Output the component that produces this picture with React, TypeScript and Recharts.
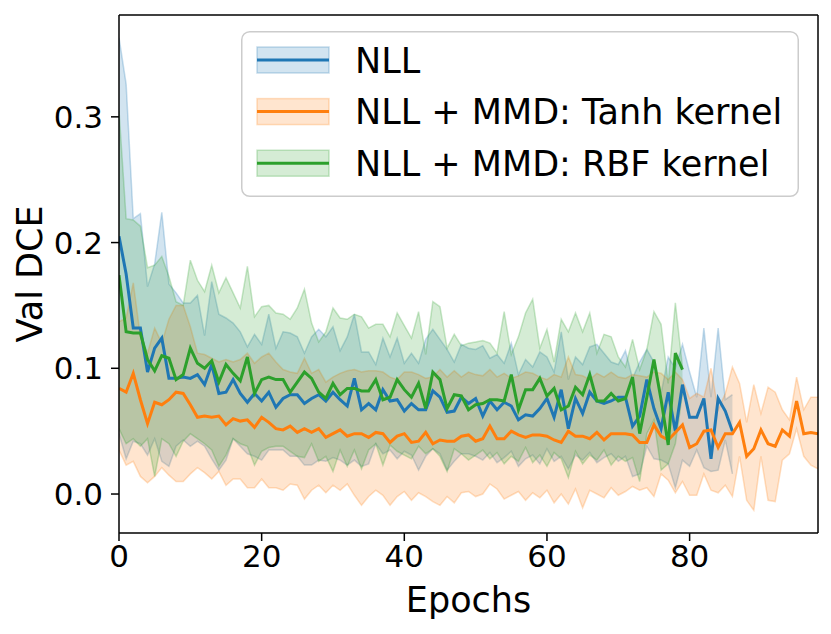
import { Area, ComposedChart, Label, Legend, Line, ReferenceLine, XAxis, YAxis } from "recharts";

// values, one entry per epoch starting at 0
const nllMean = [
  0.205, 0.175, 0.132, 0.132, 0.097, 0.116, 0.124, 0.092, 0.092, 0.093, 0.092, 0.095, 0.087, 0.103, 0.080, 0.081, 0.091, 0.080, 0.073, 0.080, 0.074, 0.081, 0.069, 0.076, 0.079,
  0.079, 0.072, 0.076, 0.079, 0.074, 0.081, 0.075, 0.070, 0.092, 0.067, 0.072, 0.067, 0.083, 0.074, 0.075, 0.066, 0.072, 0.067, 0.067, 0.082, 0.077, 0.065, 0.066, 0.077, 0.072,
  0.076, 0.062, 0.074, 0.067, 0.073, 0.070, 0.059, 0.063, 0.062, 0.068, 0.076, 0.061, 0.083, 0.052, 0.076, 0.064, 0.081, 0.074, 0.072, 0.074, 0.077, 0.077, 0.054, 0.062, 0.091,
  0.068, 0.052, 0.081, 0.050, 0.087, 0.061, 0.061, 0.076, 0.028, 0.076, 0.066, 0.050,
];
const nllHigh = [
  0.363, 0.326, 0.219, 0.223, 0.165, 0.183, 0.224, 0.167, 0.160, 0.152, 0.152, 0.158, 0.126, 0.169, 0.143, 0.140, 0.136, 0.129, 0.117, 0.127, 0.119, 0.143, 0.116, 0.129, 0.128,
  0.125, 0.112, 0.125, 0.131, 0.125, 0.133, 0.114, 0.125, 0.143, 0.113, 0.113, 0.103, 0.124, 0.109, 0.124, 0.104, 0.112, 0.104, 0.123, 0.131, 0.123, 0.115, 0.105, 0.119, 0.116,
  0.115, 0.118, 0.108, 0.111, 0.104, 0.120, 0.095, 0.107, 0.101, 0.113, 0.109, 0.097, 0.129, 0.091, 0.109, 0.103, 0.117, 0.119, 0.112, 0.105, 0.103, 0.114, 0.092, 0.105, 0.115,
  0.105, 0.080, 0.109, 0.100, 0.119, 0.097, 0.077, 0.132, 0.077, 0.132, 0.075, 0.079,
];
const nllLow = [
  0.048, 0.028, 0.042, 0.040, 0.031, 0.044, 0.026, 0.022, 0.038, 0.043, 0.038, 0.042, 0.038, 0.028, 0.019, 0.027, 0.044, 0.038, 0.032, 0.030, 0.027, 0.035, 0.035, 0.035, 0.030,
  0.030, 0.023, 0.023, 0.027, 0.026, 0.029, 0.027, 0.023, 0.027, 0.022, 0.024, 0.040, 0.032, 0.035, 0.028, 0.034, 0.031, 0.019, 0.030, 0.036, 0.032, 0.019, 0.026, 0.032, 0.032,
  0.030, 0.027, 0.033, 0.025, 0.029, 0.034, 0.022, 0.028, 0.031, 0.024, 0.036, 0.026, 0.030, 0.020, 0.031, 0.027, 0.033, 0.025, 0.029, 0.032, 0.026, 0.030, 0.014, 0.016, 0.038,
  0.028, 0.027, 0.024, 0.005, 0.027, 0.022, 0.035, 0.021, 0.018, 0.019, 0.043, 0.016,
];

const tanhMean = [
  0.084, 0.081, 0.096, 0.075, 0.056, 0.073, 0.071, 0.075, 0.081, 0.080, 0.071, 0.061, 0.062, 0.061, 0.062, 0.055, 0.060, 0.058, 0.059, 0.053, 0.061, 0.057, 0.052, 0.051, 0.054,
  0.049, 0.052, 0.049, 0.052, 0.045, 0.048, 0.051, 0.046, 0.048, 0.048, 0.045, 0.049, 0.048, 0.041, 0.046, 0.048, 0.041, 0.042, 0.049, 0.040, 0.043, 0.042, 0.042, 0.046, 0.047,
  0.042, 0.044, 0.054, 0.044, 0.044, 0.050, 0.047, 0.045, 0.047, 0.047, 0.046, 0.043, 0.041, 0.050, 0.046, 0.046, 0.044, 0.049, 0.043, 0.048, 0.048, 0.048, 0.047, 0.041, 0.041,
  0.055, 0.046, 0.043, 0.049, 0.055, 0.037, 0.040, 0.050, 0.051, 0.037, 0.048, 0.048, 0.057, 0.030, 0.036, 0.051, 0.040, 0.038, 0.051, 0.046, 0.074, 0.048, 0.049, 0.048,
];
const tanhHigh = [
  0.137, 0.140, 0.168, 0.125, 0.112, 0.132, 0.120, 0.139, 0.150, 0.150, 0.133, 0.112, 0.111, 0.108, 0.105, 0.107, 0.105, 0.107, 0.112, 0.104, 0.109, 0.112, 0.105, 0.099, 0.097,
  0.096, 0.108, 0.096, 0.099, 0.089, 0.093, 0.096, 0.098, 0.099, 0.097, 0.098, 0.098, 0.097, 0.093, 0.091, 0.097, 0.097, 0.095, 0.092, 0.093, 0.099, 0.093, 0.098, 0.093, 0.097,
  0.095, 0.094, 0.099, 0.093, 0.096, 0.092, 0.094, 0.097, 0.096, 0.093, 0.091, 0.095, 0.093, 0.109, 0.095, 0.094, 0.091, 0.096, 0.093, 0.097, 0.093, 0.092, 0.095, 0.094, 0.093,
  0.097, 0.096, 0.091, 0.097, 0.091, 0.076, 0.080, 0.077, 0.100, 0.067, 0.080, 0.101, 0.088, 0.057, 0.087, 0.064, 0.085, 0.081, 0.067, 0.059, 0.093, 0.067, 0.077, 0.077,
];
const tanhLow = [
  0.035, 0.023, 0.026, 0.014, 0.009, 0.014, 0.021, 0.015, 0.010, 0.010, 0.016, 0.021, 0.017, 0.012, 0.018, 0.007, 0.012, 0.012, 0.005, 0.005, 0.012, 0.005, 0.005, 0.003, 0.008,
  0.007, -0.004, 0.003, 0.007, 0.001, 0.007, 0.003, 0.008, -0.001, -0.009, -0.002, 0.003, -0.001, -0.009, -0.002, 0.002, -0.005, 0.001, -0.002, -0.006, -0.009, -0.002, -0.007, 0.001, 0.002,
  -0.002, 0.000, 0.008, 0.004, -0.004, -0.001, 0.002, -0.005, 0.001, -0.003, 0.003, -0.007, 0.000, -0.008, 0.004, -0.011, 0.003, 0.000, -0.003, 0.005, -0.001, 0.002, 0.006, 0.003, 0.005,
  -0.002, 0.016, 0.011, 0.001, 0.010, -0.001, -0.001, 0.016, 0.003, 0.001, 0.007, -0.002, 0.030, -0.005, -0.013, 0.030, -0.005, -0.006, 0.027, 0.032, 0.052, 0.030, 0.023, 0.020,
];

const rbfMean = [
  0.174, 0.129, 0.128, 0.128, 0.107, 0.098, 0.110, 0.108, 0.091, 0.095, 0.116, 0.104, 0.100, 0.106, 0.089, 0.103, 0.096, 0.090, 0.109, 0.080, 0.091, 0.093, 0.091, 0.091, 0.081,
  0.089, 0.097, 0.092, 0.081, 0.076, 0.088, 0.079, 0.084, 0.084, 0.082, 0.082, 0.091, 0.075, 0.077, 0.091, 0.083, 0.077, 0.088, 0.068, 0.097, 0.091, 0.068, 0.079, 0.078, 0.067,
  0.071, 0.072, 0.075, 0.075, 0.074, 0.095, 0.067, 0.083, 0.083, 0.092, 0.078, 0.084, 0.067, 0.070, 0.085, 0.079, 0.095, 0.074, 0.074, 0.080, 0.074, 0.076, 0.093, 0.048, 0.077,
  0.107, 0.075, 0.039, 0.112, 0.099,
];
const rbfHigh = [
  0.305, 0.219, 0.218, 0.213, 0.180, 0.182, 0.189, 0.173, 0.153, 0.150, 0.186, 0.170, 0.161, 0.182, 0.160, 0.172, 0.160, 0.148, 0.181, 0.141, 0.149, 0.150, 0.144, 0.143, 0.139,
  0.148, 0.163, 0.136, 0.121, 0.129, 0.148, 0.140, 0.139, 0.143, 0.141, 0.132, 0.135, 0.135, 0.125, 0.144, 0.134, 0.124, 0.145, 0.111, 0.153, 0.149, 0.116, 0.127, 0.118, 0.120,
  0.121, 0.122, 0.120, 0.112, 0.145, 0.111, 0.125, 0.144, 0.155, 0.116, 0.131, 0.105, 0.139, 0.129, 0.144, 0.129, 0.144, 0.112, 0.127, 0.125, 0.109, 0.101, 0.123, 0.099, 0.115,
  0.145, 0.135, 0.088, 0.152, 0.101,
];
const rbfLow = [
  0.052, 0.040, 0.044, 0.038, 0.044, 0.014, 0.044, 0.040, 0.030, 0.042, 0.048, 0.044, 0.040, 0.035, 0.022, 0.031, 0.044, 0.040, 0.038, 0.023, 0.034, 0.037, 0.038, 0.038, 0.034,
  0.030, 0.029, 0.040, 0.026, 0.030, 0.018, 0.035, 0.022, 0.035, 0.020, 0.035, 0.040, 0.023, 0.039, 0.034, 0.031, 0.028, 0.038, 0.032, 0.036, 0.030, 0.018, 0.036, 0.032, 0.027,
  0.031, 0.035, 0.028, 0.033, 0.024, 0.030, 0.026, 0.037, 0.025, 0.031, 0.022, 0.033, 0.028, 0.013, 0.034, 0.024, 0.031, 0.027, 0.035, 0.023, 0.030, 0.026, 0.029, 0.010, 0.048,
  0.059, 0.019, 0.024, 0.040, 0.080,
];

const xTicks = [0, 20, 40, 60, 80];
const yTicks = [0, 0.1, 0.2, 0.3];
const xDomain: [number, number] = [0, 98];
const yDomain: [number, number] = [-0.031, 0.381];

const FONT = "DejaVu Sans";

type Row = { epoch: number; mean: number; band: [number, number] };

function buildRows(mean: number[], low: number[], high: number[]): Row[] {
  return mean.map((m, i) => ({ epoch: i, mean: m, band: [low[i], high[i]] }));
}

const series = [
  { key: "nll", name: "NLL", color: "#1f77b4", rows: buildRows(nllMean, nllLow, nllHigh) },
  { key: "tanh", name: "NLL + MMD: Tanh kernel", color: "#ff7f0e", rows: buildRows(tanhMean, tanhLow, tanhHigh) },
  { key: "rbf", name: "NLL + MMD: RBF kernel", color: "#2ca02c", rows: buildRows(rbfMean, rbfLow, rbfHigh) },
];

function LegendBox() {
  return (
    <svg width={558} height={166} style={{ display: "block", overflow: "visible" }}>
      <rect x={0.75} y={0.75} width={556.5} height={164.5} rx={8} fill="#ffffff" fillOpacity={0.8} stroke="#cccccc" strokeWidth={1.5} />
      {series.map((s, i) => {
        const cy = 29 + i * 51.6;
        return (
          <g key={s.key}>
            <rect x={16} y={cy - 13} width={72} height={26} fill={s.color} fillOpacity={0.2} stroke={s.color} strokeOpacity={0.25} strokeWidth={1.5} />
            <line x1={16} x2={88} y1={cy} y2={cy} stroke={s.color} strokeWidth={3} />
            <text x={114} y={cy + 12.5} fontFamily={FONT} fontSize={35} fill="#000">
              {s.name}
            </text>
          </g>
        );
      })}
    </svg>
  );
}

export default function App() {
  const axisLine = { stroke: "#000", strokeWidth: 1.5 };
  const tickStyle = { fontFamily: FONT, fontSize: 31, fill: "#000" };
  return (
    <div style={{ position: "absolute", left: 0, top: 0, background: "#fff" }}>
      <ComposedChart width={831} height={634} margin={{ top: 15, right: 13, bottom: 0, left: 0 }}>
        <XAxis
          dataKey="epoch"
          type="number"
          domain={xDomain}
          ticks={xTicks}
          allowDataOverflow
          height={101}
          axisLine={axisLine}
          tickLine={axisLine}
          tickSize={8}
          tickMargin={4}
          tick={tickStyle}
        >
          <Label
            content={({ viewBox }: any) => (
              <text x={viewBox.x + viewBox.width / 2} y={viewBox.y + 79} textAnchor="middle" fontFamily={FONT} fontSize={35} fill="#000">
                Epochs
              </text>
            )}
          />
        </XAxis>
        <YAxis
          type="number"
          domain={yDomain}
          ticks={yTicks}
          allowDataOverflow
          width={119}
          axisLine={axisLine}
          tickLine={axisLine}
          tickSize={8}
          tickMargin={8}
          tick={tickStyle}
          tickFormatter={(v: number) => v.toFixed(1)}
        >
          <Label
            content={({ viewBox }: any) => {
              const cx = viewBox.x + 42;
              const cy = viewBox.y + viewBox.height / 2;
              return (
                <text x={cx} y={cy} transform={`rotate(-90 ${cx} ${cy})`} textAnchor="middle" fontFamily={FONT} fontSize={35} fill="#000">
                  Val DCE
                </text>
              );
            }}
          />
        </YAxis>
        {series.map((s) => (
          <Area
            key={`${s.key}-band`}
            data={s.rows}
            dataKey="band"
            type="linear"
            fill={s.color}
            fillOpacity={0.2}
            stroke={s.color}
            strokeOpacity={0.25}
            strokeWidth={1.5}
            dot={false}
            activeDot={false}
            isAnimationActive={false}
          />
        ))}
        {series.map((s) => (
          <Line
            key={`${s.key}-mean`}
            data={s.rows}
            dataKey="mean"
            name={s.name}
            type="linear"
            stroke={s.color}
            strokeWidth={3}
            dot={false}
            activeDot={false}
            isAnimationActive={false}
          />
        ))}
        {/* top and right spines of the matplotlib box */}
        <ReferenceLine y={yDomain[1]} stroke="#000" strokeWidth={1.5} ifOverflow="visible" />
        <ReferenceLine x={xDomain[1]} stroke="#000" strokeWidth={1.5} ifOverflow="visible" />
        <Legend
          layout="vertical"
          align="center"
          verticalAlign="middle"
          wrapperStyle={{ position: "absolute", left: 241, top: 31, width: 558, height: 166 }}
          content={() => <LegendBox />}
        />
      </ComposedChart>
    </div>
  );
}
